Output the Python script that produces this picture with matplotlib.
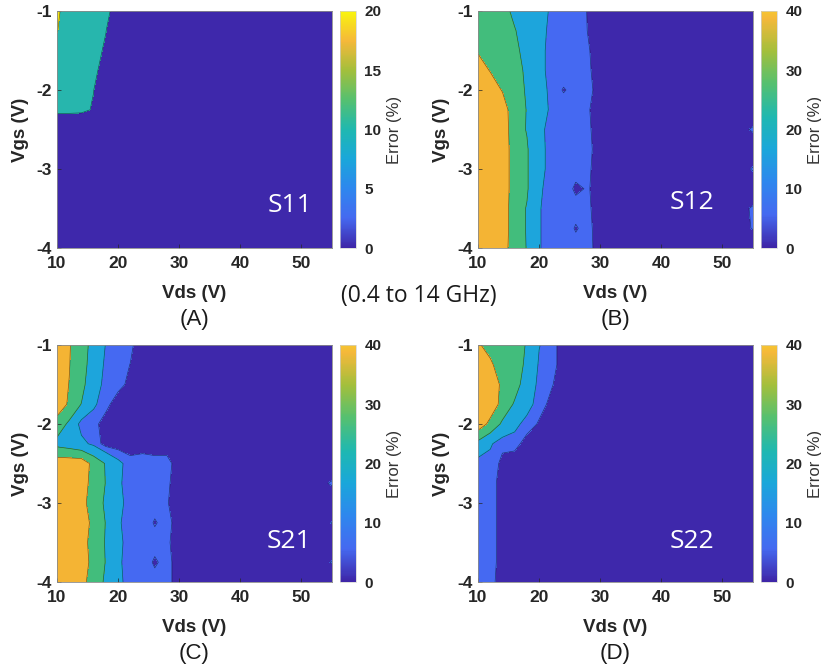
import matplotlib
matplotlib.use('Agg')
import matplotlib.pyplot as plt
from matplotlib.colors import LinearSegmentedColormap, ListedColormap, Normalize
from matplotlib.cm import ScalarMappable
import numpy as np

plt.rcParams['font.family'] = ['Liberation Sans', 'DejaVu Sans']
plt.rcParams['axes.unicode_minus'] = False

# measurement grid
vds = [10, 12, 14, 16, 18, 20, 22, 24, 26, 28, 30, 32, 36, 40, 45, 50, 55]
vgs = [-1.0, -1.25, -1.5, -1.75, -2.0, -2.25, -2.5, -2.75, -3.0, -3.25, -3.5, -3.75, -4.0]

# relative model error (%) per bias point, rows follow vgs, columns follow vds
err_s11 = [
    [22, 14, 13, 13, 13, 4.4, 2, 1.5, 1, 1, 1, 1, 1, 1, 1, 1, 1],
    [20.5, 13, 13, 13, 10.2, 2, 1.5, 1, 1, 1, 1, 1, 1, 1, 1, 1, 1],
    [15, 13, 13, 13, 8.7, 2, 1.5, 1, 1, 1, 1, 1, 1, 1, 1, 1, 1],
    [13, 13, 13, 13, 4.4, 2, 1.5, 1, 1, 1, 1, 1, 1, 1, 1, 1, 1],
    [13, 13, 13, 10.1, 2, 1.5, 1, 1, 1, 1, 1, 1, 1, 1, 1, 1, 1],
    [12, 11.8, 11.5, 9.4, 2, 1.5, 1, 1, 1, 1, 1, 1, 1, 1, 1, 1, 1],
    [2, 2, 2, 1.5, 1.5, 1, 1, 1, 1, 1, 1, 1, 1, 1, 1, 1, 1],
    [2, 2, 2, 1.5, 1.5, 1, 1, 1, 1, 1, 1, 1, 1, 1, 1, 1, 1],
    [2, 2, 2, 1.5, 1.5, 1, 1, 1, 1, 1, 1, 1, 1, 1, 1, 1, 1],
    [2, 2, 2, 1.5, 1.5, 1, 1, 1, 1, 1, 1, 1, 1, 1, 1, 1, 1],
    [2, 2, 2, 1.5, 1.5, 1, 1, 1, 1, 1, 1, 1, 1, 1, 1, 1, 1],
    [2, 2, 2, 1.5, 1.5, 1, 1, 1, 1, 1, 1, 1, 1, 1, 1, 1, 1],
    [2, 2, 2, 1.5, 1.5, 1, 1, 1, 1, 1, 1, 1, 1, 1, 1, 1, 1],
]

err_s12 = [
    [27, 27, 26, 16, 15, 13, 9, 8, 9, 4.5, 2, 1.5, 1, 1, 1, 1, 1.5],
    [28, 27, 25, 21, 12, 13, 8, 7, 8, 4.8, 2, 1.5, 1, 1, 1, 1, 1.5],
    [29, 27, 26, 24, 14, 13, 7, 8, 7, 5.5, 2.2, 1.5, 1, 1, 1, 1, 1.5],
    [35, 29.4, 27, 26, 17, 13, 7, 8, 7, 6, 2, 1.5, 1, 1, 1, 1, 1.5],
    [36, 36, 29.3, 26, 18.5, 13, 8.4, 4.5, 7, 7, 2, 1.5, 1, 1, 1, 1, 1.5],
    [36, 36, 36, 22.7, 19.8, 13, 9, 8, 7, 5.5, 2.2, 1.5, 1, 1, 1, 1, 1.5],
    [36, 36, 36, 24, 19.5, 13, 6.3, 8, 7, 6, 2, 1.5, 1, 1, 1, 1, 5.6],
    [36, 36, 36, 25, 21, 11, 9, 8, 7, 7, 1.3, 1.5, 1, 1, 1, 1, 1.5],
    [36, 36, 36, 25, 21, 11, 9, 8, 7, 6, 2, 1.5, 1, 1, 1, 1, 5.4],
    [36, 36, 36, 25, 21, 11, 7.7, 8, 4, 5.5, 2.2, 1.5, 1, 1, 1, 1, 1.5],
    [36, 36, 36, 24, 19.5, 10.5, 7.2, 8, 7, 6, 2, 1.5, 1, 1, 1, 1, 5.6],
    [36, 36, 36, 24, 19.5, 10.5, 7.2, 8, 4.5, 7, 1.3, 1.5, 1, 1, 1, 1, 5.3],
    [36, 36, 36, 22.7, 19.8, 10.5, 7.2, 8, 7, 7, 2, 1.5, 1, 1, 1, 1, 1.5],
]

err_s21 = [
    [36, 31, 21, 19.2, 9.5, 8, 6, 2, 1.5, 1, 1, 1, 1, 1, 1, 1, 1],
    [36, 30.5, 20.5, 19.4, 7.6, 7, 4.9, 2, 1.5, 1, 1, 1, 1, 1, 1, 1, 1],
    [36, 29.7, 24, 10.7, 9.6, 7.2, 3.2, 2, 1.5, 1, 1, 1, 1, 1, 1, 1, 1],
    [36, 28.5, 19.6, 11, 7, 1.3, 1.2, 1.2, 1.2, 1, 1, 1, 1, 1, 1, 1, 1],
    [26, 18, 7.3, 7, 2, 1.2, 1.2, 1.2, 1.2, 1, 1, 1, 1, 1, 1, 1, 1],
    [17, 15, 12, 8.4, 2.7, 2, 2, 2, 2, 2, 1.5, 1, 1, 1, 1, 1, 1],
    [36, 36, 36, 26.8, 19.2, 12, 7, 8, 7, 7, 2, 1.5, 1, 1, 1, 1, 1],
    [36, 36, 36, 25.1, 19.7, 11, 7.7, 8, 7, 6, 2, 1.5, 1, 1, 1, 1, 5.6],
    [36, 36, 36, 21, 19.7, 12, 7.6, 8, 7, 5.4, 2, 1.5, 1, 1, 1, 1, 1],
    [36, 36, 36, 26.8, 19.6, 11, 7, 8, 4.5, 7, 2, 1.5, 1, 1, 1, 1, 5.2],
    [36, 36, 36, 24, 19.5, 12, 7, 8, 7, 6, 2, 1.5, 1, 1, 1, 1, 1],
    [36, 36, 36, 26, 19.6, 11, 7.7, 8, 4.2, 7, 2, 1.5, 1, 1, 1, 1, 5.3],
    [36, 36, 36, 21, 19.7, 12, 7, 8, 7, 7, 2, 1.5, 1, 1, 1, 1, 1],
]

err_s22 = [
    [32, 24, 24, 24, 19.3, 10.3, 7, 2.6, 1.2, 1, 1, 1, 1, 1, 1, 1, 1],
    [36, 33, 21, 24, 18.3, 9.1, 7, 2.6, 1.2, 1, 1, 1, 1, 1, 1, 1, 1],
    [36, 36, 28, 24, 15.1, 8.3, 5.5, 2.2, 1.2, 1, 1, 1, 1, 1, 1, 1, 1],
    [36, 36, 26.8, 18.8, 13, 7, 3.7, 1.5, 1.2, 1, 1, 1, 1, 1, 1, 1, 1],
    [36, 27.4, 18.2, 12, 7.6, 4.4, 1.5, 1.2, 1.2, 1, 1, 1, 1, 1, 1, 1, 1],
    [17, 11, 6, 7, 2.6, 1.5, 1.2, 1.2, 1.2, 1, 1, 1, 1, 1, 1, 1, 1],
    [7, 7.5, 3.9, 1.5, 1.2, 1.2, 1.2, 1.2, 1.2, 1, 1, 1, 1, 1, 1, 1, 1],
    [7, 7, 3, 1.5, 1.2, 1.2, 1.2, 1.2, 1.2, 1, 1, 1, 1, 1, 1, 1, 1],
    [7, 7, 3, 1.5, 1.2, 1.2, 1.2, 1.2, 1.2, 1, 1, 1, 1, 1, 1, 1, 1],
    [7, 7, 3, 1.5, 1.2, 1.2, 1.2, 1.2, 1.2, 1, 1, 1, 1, 1, 1, 1, 1],
    [7, 7, 3, 1.5, 1.2, 1.2, 1.2, 1.2, 1.2, 1, 1, 1, 1, 1, 1, 1, 1],
    [7, 7, 3, 1.5, 1.2, 1.2, 1.2, 1.2, 1.2, 1, 1, 1, 1, 1, 1, 1, 1],
    [6.5, 6.5, 2.75, 1.5, 1.2, 1.2, 1.2, 1.2, 1.2, 1, 1, 1, 1, 1, 1, 1, 1],
]

x_ticks = [10, 20, 30, 40, 50]
y_ticks = [-1, -2, -3, -4]

# contour levels / fill colours
levels_s11 = [0, 10, 20, 30]
fills_s11 = ['#3e28ab', '#27b6ad', '#f2e41c']
levels_big = [0, 5, 10, 20, 30, 40]
fills_big = ['#3e28ab', '#4569f2', '#1da5dc', '#42bd7c', '#f4b434']

# parula-like colour ramp for the colorbars
parula = LinearSegmentedColormap.from_list('parula', [
    (0.000, '#3e26a8'), (0.125, '#4569f0'), (0.250, '#2e87ee'),
    (0.375, '#1aa7da'), (0.500, '#1fb8b0'), (0.625, '#55c070'),
    (0.750, '#a3bf3c'), (0.875, '#f5b83a'), (1.000, '#f9f50e')])
parula_cut = ListedColormap(parula(np.linspace(0, 0.9, 256)))

W, H = 821, 671


def px_box(x0, y0, x1, y1):
    return [x0 / W, 1 - y1 / H, (x1 - x0) / W, (y1 - y0) / H]


def draw_panel(fig, box, cbox, z, levels, fills, cmap, vmax, cticks, tag, tag_xy, letter):
    ax = fig.add_axes(px_box(*box))
    cax = fig.add_axes(px_box(*cbox))

    ax.contourf(vds, vgs, z, levels=levels, colors=fills)
    ax.contour(vds, vgs, z, levels=levels[1:-1], colors='k', linewidths=0.5, alpha=0.5)

    ax.set_xlim(10, 55)
    ax.set_ylim(-4, -1)
    ax.set_xticks(x_ticks)
    ax.set_yticks(y_ticks)
    ax.tick_params(direction='in', length=3, width=0.5, color='#262626',
                   labelsize=12.5, pad=6)
    ax.tick_params(axis='y', pad=4)
    plt.setp(ax.get_xticklabels() + ax.get_yticklabels(), fontweight='bold', color='#262626')
    for sp in ax.spines.values():
        sp.set_color('#8a8a8a')
        sp.set_linewidth(0.6)

    h = box[3] - box[1]
    w = box[2] - box[0]
    ax.text(0.5, -45 / h, 'Vds (V)', transform=ax.transAxes, ha='center', va='center',
            fontsize=13.5, fontweight='bold', color='#262626')
    ax.text(-37 / w, 0.5, 'Vgs (V)', transform=ax.transAxes, ha='center', va='center',
            rotation=90, fontsize=13.5, fontweight='bold', color='#262626')
    ax.text(0.5, -72 / h, letter, transform=ax.transAxes, ha='center', va='center',
            fontsize=16, color='#1a1a1a')
    ax.text(tag_xy[0], tag_xy[1], tag, ha='center', va='center', color='white',
            fontsize=19, family=['Open Sans', 'DejaVu Sans'])

    cb = fig.colorbar(ScalarMappable(norm=Normalize(0, vmax), cmap=cmap), cax=cax, ticks=cticks)
    cb.outline.set_edgecolor('#d0d0d0')
    cb.outline.set_linewidth(0.5)
    cax.tick_params(length=0, labelsize=11, pad=6)
    plt.setp(cax.get_yticklabels(), fontweight='bold', color='#262626')
    cw = cbox[2] - cbox[0]
    cax.text(1 + 38 / cw, 0.5, 'Error (%)', transform=cax.transAxes, ha='center', va='center',
             rotation=90, fontsize=12, color='#333333')
    return ax


fig = plt.figure(figsize=(8.21, 6.71), dpi=100)

draw_panel(fig, (57, 11, 332, 248), (340, 11, 356, 248), err_s11, levels_s11, fills_s11,
           parula, 20, [0, 5, 10, 15, 20], 'S11', (48.1, -3.46), '(A)')
draw_panel(fig, (478, 11, 753, 248), (761, 11, 777, 248), err_s12, levels_big, fills_big,
           parula_cut, 40, [0, 10, 20, 30, 40], 'S12', (45.0, -3.42), '(B)')
draw_panel(fig, (57, 345, 332, 582), (340, 345, 356, 582), err_s21, levels_big, fills_big,
           parula_cut, 40, [0, 10, 20, 30, 40], 'S21', (48.0, -3.49), '(C)')
draw_panel(fig, (478, 345, 753, 582), (761, 345, 777, 582), err_s22, levels_big, fills_big,
           parula_cut, 40, [0, 10, 20, 30, 40], 'S22', (45.0, -3.49), '(D)')

fig.text(419 / W, 1 - 296 / H, '(0.4 to 14 GHz)', ha='center', va='center',
         fontsize=16.5, family=['Open Sans', 'DejaVu Sans'], color='#1a1a1a')

fig.savefig('out.png', dpi=100)
plt.close(fig)
